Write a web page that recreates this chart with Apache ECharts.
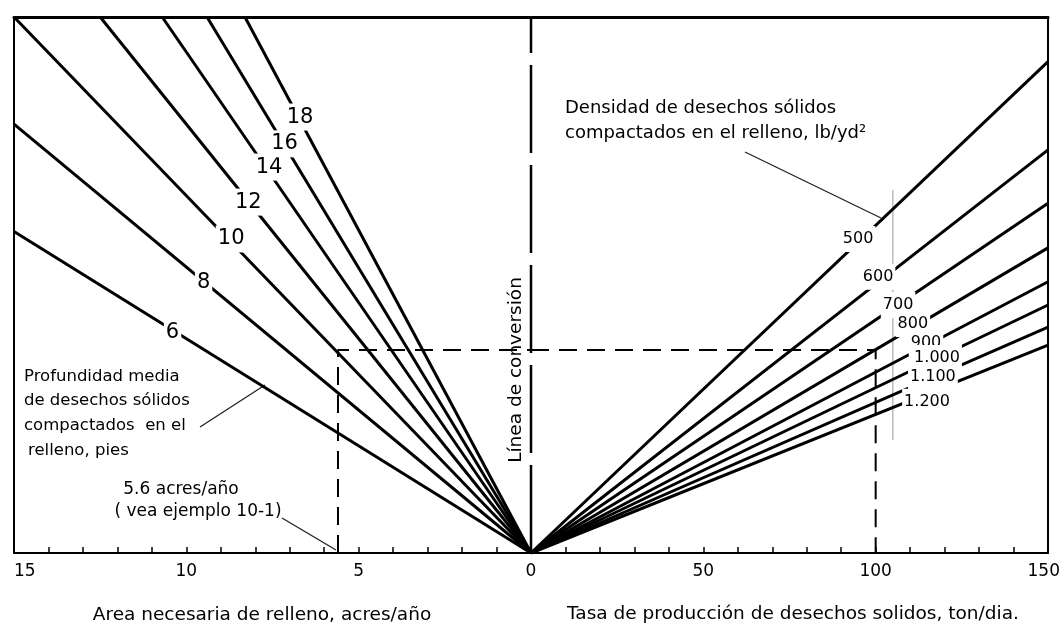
<!DOCTYPE html>
<html>
<head>
<meta charset="utf-8">
<script src="https://cdn.jsdelivr.net/npm/echarts@6/dist/echarts.min.js"></script>
<style>
html,body{margin:0;padding:0;background:#fff;}
#chart{width:1059px;height:625px;}
</style>
</head>
<body>
<div id="chart"></div>
<script>
// ---- Data ----
// Left: depth lines (ft); end points (area acres/yr, conversion value acre-ft/yr)
const depthLabels = ['6', '8', '10', '12', '14', '16', '18'];
const depthEndArea = [15, 15, 15, 12.5, 10.7, 9.4, 8.3];
const depthEndVol = [90, 120, 150, 150, 150, 150, 150];
const depthLabelArea = [10.4, 9.5, 8.7, 8.2, 7.6, 7.15, 6.7];
const depthLabelVol = [61.6, 75.6, 87.9, 98.2, 108, 114.5, 122];

// Right: density lines (lb/yd3); end points (tons/day, conversion value)
const densityLabels = ['500', '600', '700', '800', '900', '1.000', '1.100', '1.200'];
const densityEndTons = [150, 150, 150, 150, 150, 150, 150, 150];
const densityEndVol = [137.5, 112.8, 97.9, 85.4, 75.9, 69.4, 63.2, 58.2];
const densityLabelTons = [94.9, 100.7, 106.5, 110.8, 114.6, 117.8, 116.6, 114.9];
const densityLabelVol = [87.9, 77.3, 69.4, 64.1, 58.8, 54.6, 49.3, 42.3];

// Worked example (ejemplo 10-1)
const exampleArea = 5.6;
const exampleVol = 56.8;
const exampleTons = 100;

// Faint guide mark visible in the scan
const guideTons = 105;
const guideVol = [31.6, 101.6];

// Axis ranges / ticks
const areaMax = 15, areaTick = 1, areaLabelStep = 5;
const tonsMax = 150, tonsTick = 10, tonsLabelStep = 50;
const volMax = 150;

// ---- Chart ----
const FONT = 'DejaVu Sans';
const chart = echarts.init(document.getElementById('chart'), null, {renderer: 'canvas'});

const blackLine = {color: '#000', width: 3};
const series = [];

depthLabels.forEach((d, i) => {
  series.push({
    type: 'line', xAxisIndex: 0, yAxisIndex: 0, symbol: 'none', silent: true, z: 2,
    lineStyle: blackLine,
    data: [[0, 0], [depthEndArea[i], depthEndVol[i]]]
  });
});
densityLabels.forEach((d, i) => {
  series.push({
    type: 'line', xAxisIndex: 2, yAxisIndex: 1, symbol: 'none', silent: true, z: 2,
    lineStyle: blackLine,
    data: [[0, 0], [densityEndTons[i], densityEndVol[i]]]
  });
});

// conversion line (centre)
series.push({
  type: 'line', xAxisIndex: 0, yAxisIndex: 0, symbol: 'none', silent: true, clip: false, z: 3,
  lineStyle: {color: '#000', width: 2.5, type: [88, 12]},
  data: [[0, 0], [0, volMax]]
});

// example dashed path
series.push({
  type: 'line', xAxisIndex: 0, yAxisIndex: 0, symbol: 'none', silent: true, z: 3,
  lineStyle: {color: '#000', width: 2, type: [18, 10]},
  data: [[exampleArea, 0], [exampleArea, exampleVol], [0, exampleVol]]
});
series.push({
  type: 'line', xAxisIndex: 2, yAxisIndex: 1, symbol: 'none', silent: true, z: 3,
  lineStyle: {color: '#000', width: 2, type: [18, 10]},
  data: [[0, exampleVol], [exampleTons, exampleVol], [exampleTons, 0]]
});

// faint scan guide
series.push({
  type: 'line', xAxisIndex: 2, yAxisIndex: 1, symbol: 'none', silent: true, z: 1,
  lineStyle: {color: '#9a9a9a', width: 1},
  data: [[guideTons, guideVol[0]], [guideTons, guideVol[1]]]
});

// line labels (white boxes interrupt the lines)
const labelSeries = (xi, yi, names, xs, ys, size, pad) => ({
  type: 'scatter', xAxisIndex: xi, yAxisIndex: yi, symbolSize: 1, silent: true, z: 10,
  itemStyle: {color: '#fff', opacity: 1},
  emphasis: {disabled: true},
  label: {show: true, position: 'inside', formatter: '{b}', color: '#000', opacity: 1,
          textBorderWidth: 0, fontFamily: FONT, fontSize: size,
          backgroundColor: '#fff', padding: pad},
  data: names.map((n, i) => ({name: n, value: [xs[i], ys[i]]}))
});
series.push(labelSeries(0, 0, depthLabels, depthLabelArea, depthLabelVol, 21, [3, 2]));
series.push(labelSeries(2, 1, densityLabels, densityLabelTons, densityLabelVol, 16, [5, 2]));

const frameLine = {show: true, onZero: false, lineStyle: {color: '#000', width: 2}};
const tickLabel = {margin: 10, fontSize: 17, fontFamily: FONT, color: '#000'};

const txt = (x, y, text, size, extra) => ({
  type: 'text', x: x, y: y, silent: true,
  style: Object.assign({text: text, fill: '#000', fontFamily: FONT, fontSize: size,
                        align: 'left', verticalAlign: 'middle'}, (extra || {}))
});
const leader = (x1, y1, x2, y2) => ({
  type: 'line', silent: true, shape: {x1, y1, x2, y2}, style: {stroke: '#222', lineWidth: 1.3}
});

const option = {
  animation: false,
  backgroundColor: '#fff',
  grid: [
    {left: 14, top: 17, width: 517, height: 536, outerBoundsMode: 'none', containLabel: false},
    {left: 531, top: 17, width: 517, height: 536, outerBoundsMode: 'none', containLabel: false}
  ],
  xAxis: [
    {gridIndex: 0, type: 'value', min: 0, max: areaMax, interval: areaTick, inverse: true, position: 'bottom',
     axisLine: frameLine,
     axisTick: {show: true, inside: true, length: 6, lineStyle: {color: '#000', width: 1.5}},
     axisLabel: Object.assign({formatter: v => (v % areaLabelStep === 0 ? String(v) : ''), alignMaxLabel: 'left'}, tickLabel),
     splitLine: {show: false}},
    {gridIndex: 0, type: 'value', min: 0, max: areaMax, inverse: true, position: 'top',
     axisLine: {show: true, onZero: false, lineStyle: {color: '#000', width: 3}},
     axisTick: {show: false}, axisLabel: {show: false}, splitLine: {show: false}},
    {gridIndex: 1, type: 'value', min: 0, max: tonsMax, interval: tonsTick, position: 'bottom',
     axisLine: frameLine,
     axisTick: {show: true, inside: true, length: 6, lineStyle: {color: '#000', width: 1.5}},
     axisLabel: Object.assign({formatter: v => (v === tonsMax ? String(v) + '\u2002' : (v % tonsLabelStep === 0 && v > 0 ? String(v) : ''))}, tickLabel),
     splitLine: {show: false}},
    {gridIndex: 1, type: 'value', min: 0, max: tonsMax, position: 'top',
     axisLine: {show: true, onZero: false, lineStyle: {color: '#000', width: 3}},
     axisTick: {show: false}, axisLabel: {show: false}, splitLine: {show: false}}
  ],
  yAxis: [
    {gridIndex: 0, type: 'value', min: 0, max: volMax, position: 'left',
     axisLine: frameLine, axisTick: {show: false}, axisLabel: {show: false}, splitLine: {show: false}},
    {gridIndex: 1, type: 'value', min: 0, max: volMax, position: 'right',
     axisLine: frameLine, axisTick: {show: false}, axisLabel: {show: false}, splitLine: {show: false}}
  ],
  series: series,
  graphic: [
    txt(565, 108, 'Densidad de desechos sólidos', 18),
    txt(565, 133, 'compactados en el relleno, lb/yd²', 18),
    leader(745, 152, 881, 218),
    txt(24, 377, 'Profundidad media', 16.5),
    txt(24, 401, 'de desechos sólidos', 16.5),
    txt(24, 426, 'compactados  en el', 16.5),
    txt(28, 451, 'relleno, pies', 16.5),
    leader(200, 427, 265, 385),
    txt(181, 490, '5.6 acres/año', 17, {align: 'center'}),
    txt(198, 512, '( vea ejemplo 10-1)', 17, {align: 'center'}),
    leader(282, 518, 336, 550),
    Object.assign(txt(516, 370, 'Línea de conversión', 18.5, {align: 'center'}), {rotation: Math.PI / 2}),
    txt(262, 615, 'Area necesaria de relleno, acres/año', 18.5, {align: 'center'}),
    txt(793, 614, 'Tasa de producción de desechos solidos, ton/dia.', 18.5, {align: 'center'})
  ]
};
chart.setOption(option);
</script>
</body>
</html>
